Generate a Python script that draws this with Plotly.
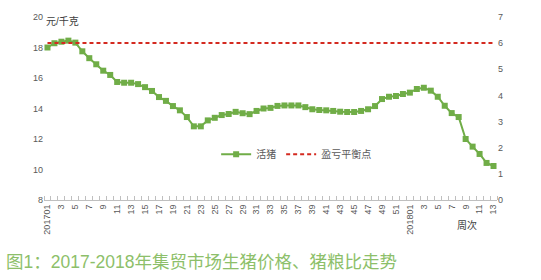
import plotly.graph_objects as go

weeks = ["201701"] + [str(i) for i in range(2, 53)] + ["201801"] + [str(i) for i in range(2, 14)]
hog_price = [18.0, 18.28, 18.38, 18.45, 18.32, 17.75, 17.3, 16.9, 16.48, 16.2,
             15.74, 15.69, 15.69, 15.6, 15.4, 15.15, 14.75, 14.5, 14.16, 13.88,
             13.44, 12.83, 12.83, 13.22, 13.39, 13.57, 13.64, 13.78, 13.69, 13.63,
             13.84, 14.0, 14.04, 14.17, 14.2, 14.2, 14.2, 14.09, 13.95, 13.9,
             13.88, 13.84, 13.79, 13.77, 13.77, 13.84, 13.95, 14.16, 14.62, 14.77,
             14.82, 14.95, 15.04, 15.28, 15.36, 15.17, 14.77, 14.18, 13.7, 13.44,
             12.0, 11.5, 11.02, 10.43, 10.23]
breakeven = [18.3] * len(weeks)
left_ticks = [8, 10, 12, 14, 16, 18, 20]
right_ticks = [0, 1, 2, 3, 4, 5, 6, 7]

idx = list(range(len(weeks)))
tickvals = idx[::2]
ticktext = weeks[::2]

GRAY = "#595959"
fig = go.Figure()
fig.add_trace(go.Scatter(
    x=idx, y=hog_price, name="活猪", mode="lines+markers",
    line=dict(color="#70AD47", width=2),
    marker=dict(symbol="square", size=6, color="#70AD47"),
))
fig.add_trace(go.Scatter(
    x=idx, y=breakeven, name="盈亏平衡点", mode="lines",
    line=dict(color="#D42A20", width=2, dash="4px,3px"),
))
fig.add_trace(go.Scatter(
    x=[idx[0]], y=[0], yaxis="y2", mode="markers",
    marker=dict(opacity=0), showlegend=False, hoverinfo="skip",
))

fig.update_layout(
    width=541, height=280,
    margin=dict(l=44, r=44, t=17, b=80),
    paper_bgcolor="white", plot_bgcolor="white",
    font=dict(family="Liberation Sans, Noto Sans CJK SC", size=9, color=GRAY),
    xaxis=dict(
        range=[-0.5, len(weeks) - 0.5],
        tickmode="array", tickvals=tickvals, ticktext=ticktext,
        tickangle=-90, ticks="", showgrid=False, zeroline=False,
        showline=True, linecolor="#BFBFBF", linewidth=1,
        tickfont=dict(size=9, color=GRAY),
        minor=dict(ticks="inside", tick0=0.5, dtick=1, ticklen=4,
                   tickcolor="#BFBFBF", showgrid=False),
    ),
    yaxis=dict(
        range=[8, 20], tickvals=left_ticks, showgrid=False, zeroline=False,
        showline=False, tickfont=dict(size=9, color=GRAY), ticks="",
    ),
    yaxis2=dict(
        range=[0, 7], tickvals=right_ticks, overlaying="y", side="right",
        showgrid=False, zeroline=False, showline=False,
        tickfont=dict(size=9, color=GRAY), ticks="",
    ),
    legend=dict(
        orientation="h", x=0.38, y=0.25, xanchor="left", yanchor="middle",
        font=dict(size=10, color=GRAY), bgcolor="rgba(0,0,0,0)",
        itemwidth=30, tracegroupgap=0,
    ),
    showlegend=True,
)

fig.add_annotation(text="元/千克", xref="paper", yref="paper", x=0.0, y=0.975,
                   xanchor="left", yanchor="middle", showarrow=False,
                   font=dict(size=10, color="#404040"))
fig.add_annotation(text="周次", xref="paper", yref="paper", x=0.934, y=-0.137,
                   xanchor="center", yanchor="middle", showarrow=False,
                   font=dict(size=10, color="#404040"))
fig.add_annotation(text="图1：2017-2018年集贸市场生猪价格、猪粮比走势",
                   xref="paper", yref="paper", x=-0.088, y=-0.34,
                   xanchor="left", yanchor="middle", showarrow=False,
                   font=dict(size=17.5, color="#8DBF6A",
                             family="Liberation Sans, Noto Sans CJK SC"))

fig.write_html("out.html")
